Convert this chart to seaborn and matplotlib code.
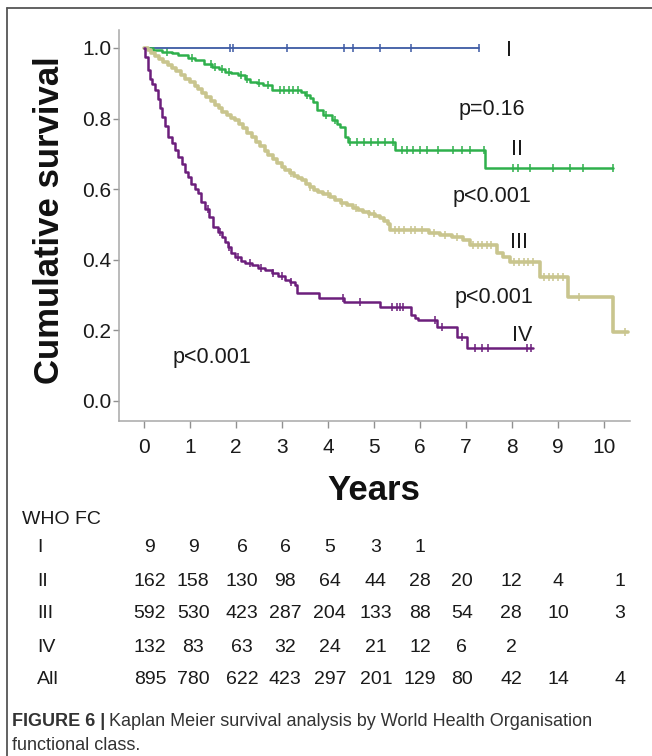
import matplotlib
matplotlib.use("Agg")
import numpy as np
import pandas as pd
import matplotlib.pyplot as plt
import matplotlib.transforms as mtransforms
from matplotlib.lines import Line2D
import seaborn as sns

# Kaplan Meier step points (years, cumulative survival)
t_I = [0, 7.28]
s_I = [1.0, 1.0]
cens_I = [1.87, 1.94, 3.1, 4.35, 4.55, 5.13, 5.8, 7.28]

t_II = [0, 0.2, 0.39, 0.6, 0.74, 0.95, 1.1, 1.3, 1.48, 1.62, 1.76, 1.9, 2.04, 2.2, 2.3, 2.45,
        2.58, 2.78, 3.42, 3.5, 3.6, 3.67, 3.76, 3.9, 4.09, 4.2, 4.26, 4.37, 4.43, 5.46, 7.41, 10.2]
s_II = [1.0, 0.994, 0.989, 0.985, 0.98, 0.973, 0.966, 0.956, 0.946, 0.94, 0.932, 0.928, 0.923, 0.912,
        0.904, 0.9, 0.895, 0.881, 0.874, 0.867, 0.857, 0.847, 0.824, 0.81, 0.796, 0.786, 0.776,
        0.748, 0.734, 0.711, 0.66, 0.66]
cens_II = [0.5, 1.05, 1.45, 1.55, 1.7, 1.85, 2.1, 2.25, 2.5, 2.7, 2.95, 3.05, 3.15, 3.25, 3.35,
           3.55, 3.95, 4.15, 4.48, 4.63, 4.78, 4.93, 5.09, 5.24, 5.41, 5.61, 5.72, 5.85, 6.0, 6.15,
           6.39, 6.72, 6.91, 7.09, 7.4, 8.02, 8.13, 8.39, 8.89, 9.26, 9.54, 10.2]

t_III = [0, 0.08, 0.16, 0.25, 0.33, 0.42, 0.52, 0.6, 0.7, 0.8, 0.9, 1.0, 1.1, 1.18, 1.26, 1.35,
         1.45, 1.55, 1.62, 1.7, 1.8, 1.9, 1.98, 2.07, 2.16, 2.25, 2.35, 2.44, 2.53, 2.62, 2.7, 2.8,
         2.9, 3.0, 3.07, 3.17, 3.27, 3.35, 3.43, 3.52, 3.6, 3.7, 3.78, 3.9, 4.04, 4.15, 4.28, 4.41,
         4.55, 4.66, 4.76, 4.9, 5.02, 5.13, 5.22, 5.3, 5.35, 6.2, 6.43, 6.7, 6.93, 7.09, 7.68, 7.8,
         7.95, 8.6, 9.22, 10.2, 10.52]
s_III = [1.0, 0.993, 0.985, 0.977, 0.969, 0.961, 0.952, 0.944, 0.934, 0.923, 0.913, 0.903, 0.893,
         0.883, 0.873, 0.862, 0.85, 0.838, 0.829, 0.819, 0.811, 0.803, 0.796, 0.784, 0.772, 0.76,
         0.748, 0.735, 0.722, 0.709, 0.697, 0.685, 0.673, 0.662, 0.654, 0.646, 0.638, 0.632, 0.626,
         0.616, 0.607, 0.599, 0.592, 0.585, 0.578, 0.569, 0.562, 0.555, 0.548, 0.541, 0.535, 0.529,
         0.523, 0.518, 0.51, 0.5, 0.484, 0.477, 0.47, 0.463, 0.456, 0.442, 0.42, 0.408, 0.394,
         0.351, 0.295, 0.195, 0.195]
cens_III = [3.2, 3.6, 4.0, 4.3, 4.6, 4.9, 5.0, 5.45, 5.55, 5.65, 5.8, 5.9, 6.05, 6.3, 6.55, 6.8,
            7.15, 7.25, 7.35, 7.45, 7.55, 8.05, 8.15, 8.25, 8.35, 8.45, 8.7, 8.8, 8.9, 9.0, 9.1,
            9.45, 10.45]

t_IV = [0, 0.03, 0.08, 0.13, 0.18, 0.24, 0.3, 0.35, 0.39, 0.45, 0.52, 0.6, 0.67, 0.74, 0.82, 0.9,
        0.96, 1.03, 1.1, 1.17, 1.25, 1.33, 1.42, 1.5, 1.6, 1.7, 1.77, 1.83, 1.9, 1.98, 2.1, 2.2,
        2.35, 2.48, 2.62, 2.78, 2.92, 3.07, 3.18, 3.28, 3.32, 3.8, 4.35, 5.13, 5.8, 5.9, 5.96, 6.38,
        6.8, 7.03, 8.46]
s_IV = [1.0, 0.975, 0.938, 0.912, 0.897, 0.881, 0.856, 0.83, 0.805, 0.78, 0.748, 0.73, 0.71, 0.691,
        0.672, 0.65, 0.635, 0.615, 0.6, 0.589, 0.565, 0.545, 0.52, 0.493, 0.478, 0.465, 0.45, 0.436,
        0.42, 0.408, 0.397, 0.391, 0.384, 0.377, 0.37, 0.363, 0.353, 0.343, 0.336, 0.329, 0.306,
        0.292, 0.28, 0.266, 0.244, 0.236, 0.229, 0.21, 0.181, 0.15, 0.15]
cens_IV = [1.4, 1.65, 1.85, 2.05, 2.3, 2.55, 2.8, 3.0, 3.2, 4.33, 4.7, 5.39, 5.5, 5.57, 5.63, 6.33,
           6.48, 6.91, 7.2, 7.35, 7.48, 8.33, 8.42]

# numbers at risk
risk_rows = ["I", "II", "III", "IV", "All"]
risk_I = [9, 9, 6, 6, 5, 3, 1]
risk_II = [162, 158, 130, 98, 64, 44, 28, 20, 12, 4, 1]
risk_III = [592, 530, 423, 287, 204, 133, 88, 54, 28, 10, 3]
risk_IV = [132, 83, 63, 32, 24, 21, 12, 6, 2]
risk_All = [895, 780, 622, 423, 297, 201, 129, 80, 42, 14, 4]

sns.set_style("white")
plt.rcParams["font.family"] = ["Liberation Sans", "DejaVu Sans"]

W, H = 652, 756
fig = plt.figure(figsize=(W / 100, H / 100), dpi=100)
ax = fig.add_axes([119 / W, 1 - 421 / H, (630 - 119) / W, (421 - 30) / H])

groups = [
    (t_I, s_I, cens_I, "#3d5aa4", 1.3),
    (t_II, s_II, cens_II, "#2fb04c", 1.8),
    (t_III, s_III, cens_III, "#c9c58e", 2.6),
    (t_IV, s_IV, cens_IV, "#6c1f7c", 1.8),
]
for t, s, cens, col, lw in groups:
    d = pd.DataFrame({"years": t, "survival": s})
    sns.lineplot(data=d, x="years", y="survival", drawstyle="steps-post", color=col,
                 linewidth=lw, estimator=None, sort=False, ax=ax)
    idx = np.searchsorted(np.array(t), np.array(cens), side="right") - 1
    sns.scatterplot(x=cens, y=np.array(s)[idx], marker="|", s=34, color=col,
                    edgecolor=col, linewidth=1.1, ax=ax)

ax.set_xlim(-0.543, 10.565)
ax.set_ylim(-0.057, 1.051)
ax.set_xticks(range(0, 11))
ax.set_yticks([0, 0.2, 0.4, 0.6, 0.8, 1.0])
ax.set_yticklabels([f"{v:.1f}" for v in [0, 0.2, 0.4, 0.6, 0.8, 1.0]])
ax.set_xlabel("")
ax.set_ylabel("")
for side in ["top", "right"]:
    ax.spines[side].set_visible(False)
for side in ["left", "bottom"]:
    ax.spines[side].set_color("#a8a8a8")
    ax.spines[side].set_linewidth(1.1)
ax.tick_params(axis="y", left=True, direction="out", length=4, width=1, color="#909090",
               labelsize=15, pad=1.5, labelcolor="#1a1a1a")
ax.tick_params(axis="x", bottom=True, direction="out", length=5, width=1, color="#909090",
               labelsize=15, pad=7, labelcolor="#1a1a1a")

# group labels and p values
for x, y, txt in [(7.94, 0.994, "I"), (8.11, 0.711, "II"), (8.15, 0.449, "III"), (8.22, 0.184, "IV"),
                  (7.57, 0.827, "p=0.16"), (7.56, 0.578, "p<0.001"), (7.6, 0.292, "p<0.001"),
                  (1.48, 0.122, "p<0.001")]:
    ax.text(x, y, txt, ha="center", va="center", fontsize=15.5, color="#1a1a1a")

fig.text(50 / W, 1 - 220 / H, "Cumulative survival", rotation=90, ha="center", va="center",
         fontsize=25, fontweight="bold", color="#111111")
fig.text(374 / W, 1 - 490 / H, "Years", ha="center", va="center",
         fontsize=25, fontweight="bold", color="#111111")

# at-risk table
blend = mtransforms.blended_transform_factory(ax.transData, fig.transFigure)
col_x = [0.13, 1.07, 2.13, 3.07, 4.04, 5.04, 6.0, 6.91, 7.98, 9.0, 10.35]
fig.text(22 / W, 1 - 520 / H, "WHO FC", ha="left", va="center", fontsize=14, color="#1a1a1a")
row_y = [548, 581, 614, 647, 680]
for name, vals, py in zip(risk_rows, [risk_I, risk_II, risk_III, risk_IV, risk_All], row_y):
    fig.text(37 / W, 1 - py / H, name, ha="left", va="center", fontsize=14, color="#1a1a1a")
    for cx, v in zip(col_x, vals):
        ax.text(cx, 1 - py / H, str(v), transform=blend, ha="center", va="center",
                fontsize=14, color="#1a1a1a")

# caption
cap = fig.text(12 / W, 1 - 722 / H, "FIGURE 6 |", ha="left", va="center", fontsize=13,
               fontweight="bold", color="#333333")
fig.canvas.draw()
bb = cap.get_window_extent()
fig.text((bb.x1 + 4) / W, 1 - 722 / H, "Kaplan Meier survival analysis by World Health Organisation",
         ha="left", va="center", fontsize=13, color="#333333")
fig.text(12 / W, 1 - 745 / H, "functional class.", ha="left", va="center", fontsize=13,
         color="#333333")

# outer frame (top and left)
fig.add_artist(Line2D([7 / W, 7 / W], [0, 1 - 8 / H], transform=fig.transFigure, color="#555555", lw=1.3))
fig.add_artist(Line2D([7 / W, 1], [1 - 8 / H, 1 - 8 / H], transform=fig.transFigure, color="#555555", lw=1.3))

fig.savefig("out.png", dpi=100)
